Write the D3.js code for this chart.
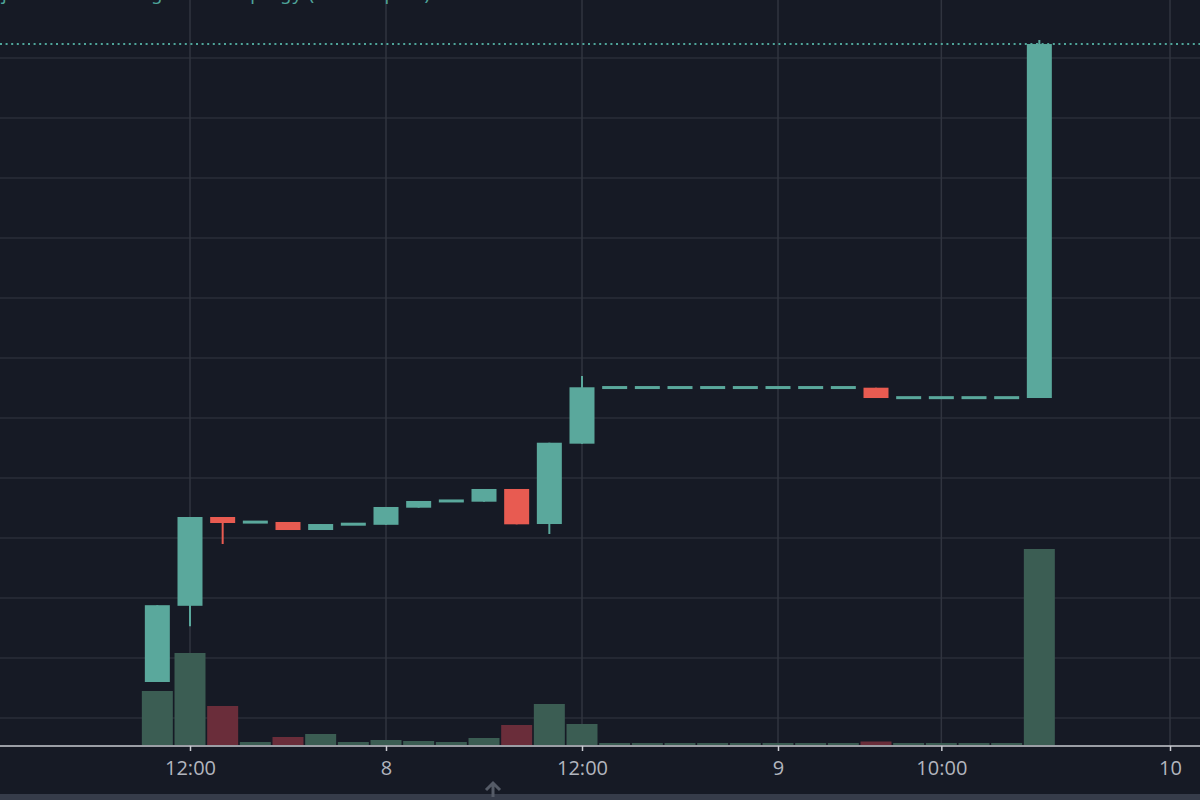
<!DOCTYPE html>
<head>
  <meta charset="utf-8">
  <script src="https://d3js.org/d3.v7.min.js"></script>
  <style>
    body { margin:0; background:#161a25; overflow:hidden; }
  </style>
</head>
<body>
<script>
var width = 1200,
    height = 800;

// 2h candles, index 0 = day 7 10:00
var opens  = [16.0, 28.7, 43.5, 42.6, 42.67, 41.33, 42.25, 42.2, 45.05, 46.15, 46.05, 48.17, 42.33, 55.72,
              65.05, 65.05, 65.05, 65.05, 65.05, 65.05, 65.05, 65.05, 65.05, 63.38, 63.38, 63.38, 63.38, 63.33];
var closes = [28.8, 43.5, 42.5, 42.7, 41.33, 42.33, 42.35, 45.17, 46.17, 46.2, 48.17, 42.28, 55.88, 65.12,
              65.1, 65.1, 65.1, 65.1, 65.1, 65.1, 65.1, 65.1, 63.33, 63.4, 63.4, 63.4, 63.4, 122.33];
var highs  = [28.8, 43.5, 43.5, 42.7, 42.67, 42.33, 42.35, 45.17, 46.17, 46.2, 48.17, 48.17, 55.88, 67.0,
              65.1, 65.1, 65.1, 65.1, 65.1, 65.1, 65.1, 65.1, 65.05, 63.4, 63.4, 63.4, 63.4, 123.0];
var lows   = [16.0, 25.3, 39.0, 42.6, 41.33, 41.33, 42.25, 42.2, 45.05, 46.15, 46.05, 42.28, 40.67, 55.72,
              65.05, 65.05, 65.05, 65.05, 65.05, 65.05, 65.05, 65.05, 63.33, 63.38, 63.38, 63.38, 63.38, 63.33];
var volumes = [54, 92, 39, 3, 8, 11, 3, 5, 4, 3, 7, 20, 41, 21, 2, 2, 2, 2, 2, 2, 2, 2, 3.5, 2, 2, 2, 2, 196];

var tickIdx    = [1, 7, 13, 19, 24, 31];
var tickLabels = ["12:00", "8", "12:00", "9", "10:00", "10"];
var priceGrid  = [10, 20, 30, 40, 50, 60, 70, 80, 90, 100, 110, 120];

var up = "#5aa89c", down = "#e85b51",
    volUp = "#3b5d53", volDown = "#6a2d3a";

var svg = d3.select("body").append("svg")
    .attr("width", width)
    .attr("height", height);

svg.append("rect").attr("width", width).attr("height", height).attr("fill", "#161a25");

var x = d3.scaleLinear().domain([1, 31]).range([190, 1170]);
var y = d3.scaleLinear().domain([0, 120]).range([778, 58]);
var yVol = d3.scaleLinear().domain([0, 200]).range([745, 545]);

// grid
svg.append("g").selectAll("line").data(priceGrid).enter().append("line")
    .attr("x1", 0).attr("x2", width)
    .attr("y1", function(d) { return y(d); }).attr("y2", function(d) { return y(d); })
    .attr("stroke", "#2a2e39").attr("stroke-width", 1.5);

svg.append("g").selectAll("line").data(tickIdx).enter().append("line")
    .attr("x1", function(d) { return x(d); }).attr("x2", function(d) { return x(d); })
    .attr("y1", 0).attr("y2", 746)
    .attr("stroke", "#30343f").attr("stroke-width", 1.5);

// legend line, scrolled mostly out of view like the reference
svg.append("text")
    .attr("x", 2).attr("y", 0)
    .attr("fill", "#4fa59a")
    .style("font-family", "Noto Sans").style("font-size", "18px")
    .style("letter-spacing", "1.2px")
    .text("jan · 2h · Trading · Uniswap · gy (Uniswap v3)");

// volume
svg.append("g").selectAll("rect").data(volumes).enter().append("rect")
    .attr("x", function(d, i) { return x(i) - 15.5; })
    .attr("width", 31)
    .attr("y", function(d) { return yVol(d); })
    .attr("height", function(d) { return 745 - yVol(d); })
    .attr("fill", function(d, i) { return closes[i] >= opens[i] ? volUp : volDown; });

// last price line
svg.append("line")
    .attr("x1", 0).attr("x2", width)
    .attr("y1", y(closes[closes.length - 1])).attr("y2", y(closes[closes.length - 1]))
    .attr("stroke", "#4fa59a").attr("stroke-width", 2)
    .attr("stroke-dasharray", "2,3.6");

// candles
var candles = svg.append("g").selectAll("g").data(opens).enter().append("g");

candles.append("line")
    .attr("x1", function(d, i) { return x(i); }).attr("x2", function(d, i) { return x(i); })
    .attr("y1", function(d, i) { return y(highs[i]); })
    .attr("y2", function(d, i) { return y(lows[i]); })
    .attr("stroke", function(d, i) { return closes[i] >= opens[i] ? up : down; })
    .attr("stroke-width", 2);

candles.append("rect")
    .attr("x", function(d, i) { return x(i) - 12.5; })
    .attr("width", 25)
    .attr("y", function(d, i) {
      var t = y(Math.max(opens[i], closes[i])), b = y(Math.min(opens[i], closes[i]));
      return b - t < 3 ? (t + b) / 2 - 1.5 : t;
    })
    .attr("height", function(d, i) {
      return Math.max(3, Math.abs(y(opens[i]) - y(closes[i])));
    })
    .attr("fill", function(d, i) { return closes[i] >= opens[i] ? up : down; });

// time axis
svg.append("line")
    .attr("x1", 0).attr("x2", width).attr("y1", 746).attr("y2", 746)
    .attr("stroke", "#c9cbd1").attr("stroke-width", 1.5);

var axis = svg.append("g")
    .attr("transform", "translate(0,746)")
    .call(d3.axisBottom(x)
      .tickValues(tickIdx)
      .tickFormat(function(d, i) { return tickLabels[i]; })
      .tickSize(5)
      .tickPadding(10));

axis.select(".domain").remove();
axis.selectAll(".tick line").attr("stroke", "#c9cbd1").attr("stroke-width", 1.5);
axis.selectAll(".tick text")
    .attr("fill", "#b2b5be")
    .style("font-family", "Open Sans")
    .style("font-size", "20px");

// scrollbar strip and arrow button
svg.append("rect").attr("x", 0).attr("y", 794).attr("width", width).attr("height", 6).attr("fill", "#363c4a");
svg.append("path")
    .attr("d", "M486,790 L493,783 L500,790 M493,783 L493,797")
    .attr("fill", "none").attr("stroke", "#555b67").attr("stroke-width", 3);
</script>
</body>
